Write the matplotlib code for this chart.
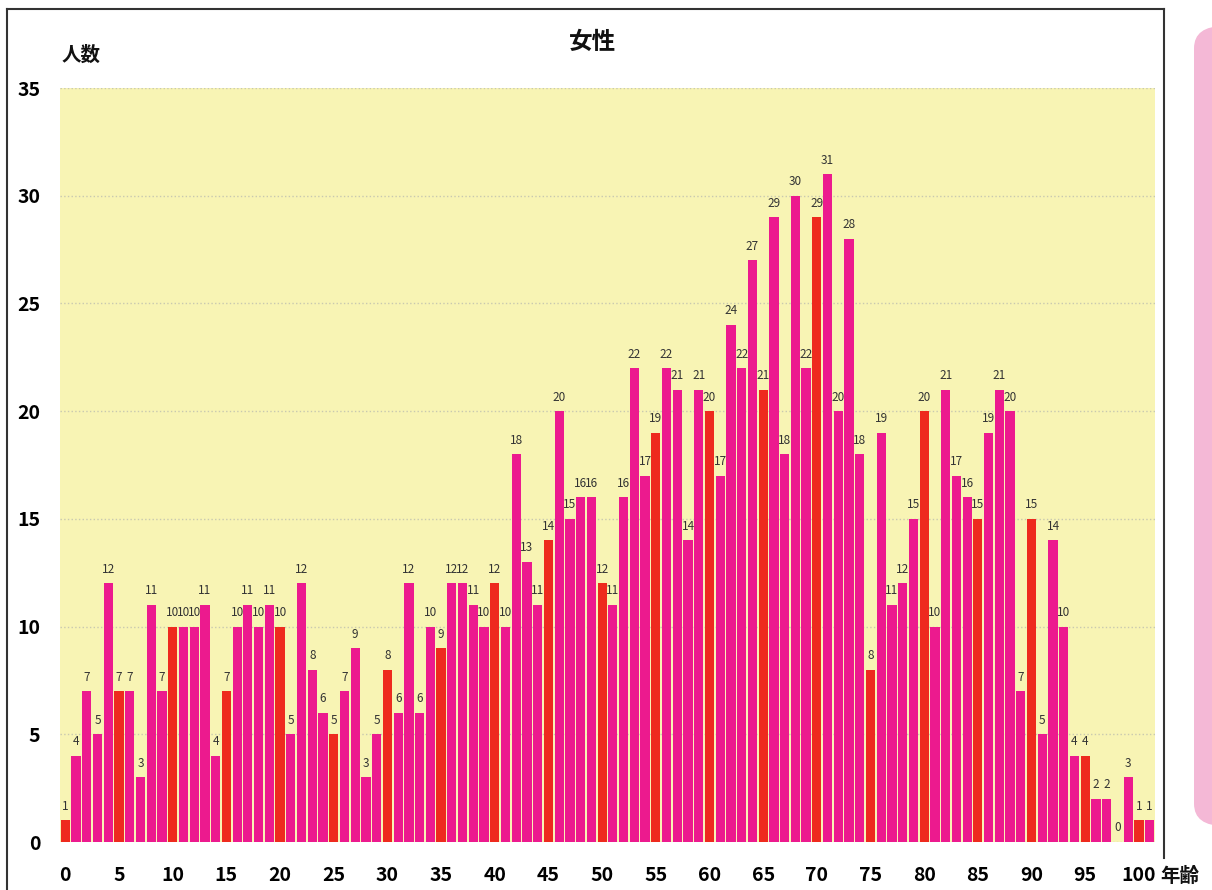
import matplotlib
matplotlib.use("Agg")
import matplotlib.pyplot as plt
from matplotlib.patches import FancyBboxPatch
from matplotlib.lines import Line2D

plt.rcParams['font.family'] = ['Noto Sans CJK JP', 'DejaVu Sans']

ages = list(range(0, 102))
counts = [1, 4, 7, 5, 12, 7, 7, 3, 11, 7,
          10, 10, 10, 11, 4, 7, 10, 11, 10, 11,
          10, 5, 12, 8, 6, 5, 7, 9, 3, 5,
          8, 6, 12, 6, 10, 9, 12, 12, 11, 10,
          12, 10, 18, 13, 11, 14, 20, 15, 16, 16,
          12, 11, 16, 22, 17, 19, 22, 21, 14, 21,
          20, 17, 24, 22, 27, 21, 29, 18, 30, 22,
          29, 31, 20, 28, 18, 8, 19, 11, 12, 15,
          20, 10, 21, 17, 16, 15, 19, 21, 20, 7,
          15, 5, 14, 10, 4, 4, 2, 2, 0, 3,
          1, 1]
x_ticks = list(range(0, 101, 5))
y_ticks = [0, 5, 10, 15, 20, 25, 30, 35]

W, H = 1212, 890
fig = plt.figure(figsize=(W / 100, H / 100), dpi=100)
fig.patch.set_facecolor('white')

def fx(px):
    return px / W

def fy(py):
    return 1 - py / H

ax = fig.add_axes([fx(60), fy(842), fx(1155) - fx(60), fy(88) - fy(842)])
ax.set_facecolor('#F8F4B4')

colors = ['#EE2A1E' if a % 5 == 0 else '#EC1A8E' for a in ages]
ax.bar(ages, counts, width=0.86, color=colors, zorder=3)

for a, c in zip(ages, counts):
    ax.text(a, c + 0.35, str(c), ha='center', va='bottom', fontsize=8.5,
            color='#333333', zorder=4)

ax.set_xlim(-0.5, 101.5)
ax.set_ylim(0, 35)
ax.set_xticks(x_ticks)
ax.set_xticklabels([str(t) for t in x_ticks], fontsize=14, fontweight='bold')
ax.set_yticks(y_ticks)
ax.set_yticklabels([str(t) for t in y_ticks], fontsize=14, fontweight='bold')
ax.tick_params(length=0)
ax.tick_params(axis='x', pad=17)
ax.tick_params(axis='y', pad=14)
ax.grid(axis='y', color='#C8C8B0', linestyle=':', linewidth=1, zorder=1)
for s in ax.spines.values():
    s.set_visible(False)

# frame
fig.add_artist(Line2D([fx(7), fx(7)], [fy(9), fy(890)], color='#333333', lw=1.5))
fig.add_artist(Line2D([fx(7), fx(1164)], [fy(9), fy(9)], color='#333333', lw=1.5))
fig.add_artist(Line2D([fx(1164), fx(1164)], [fy(9), fy(858)], color='#333333', lw=1.5))

fig.text(fx(593), fy(42), '女性', ha='center', va='center', fontsize=17,
         fontweight='bold', color='#111111')
fig.text(fx(62), fy(55), '人数', ha='left', va='center', fontsize=14,
         fontweight='bold', color='#111111')
fig.text(fx(1160), fy(876), '年齢', ha='left', va='center', fontsize=14,
         fontweight='bold', color='#111111')

# pink side box (cut off at the right edge)
box = FancyBboxPatch((fx(1194), fy(826)), fx(80), fy(26) - fy(826),
                     boxstyle='round,pad=0,rounding_size=0.025',
                     transform=fig.transFigure, facecolor='#F4B8D6',
                     edgecolor='none', clip_on=False)
fig.add_artist(box)

fig.savefig('out.png', dpi=100)
